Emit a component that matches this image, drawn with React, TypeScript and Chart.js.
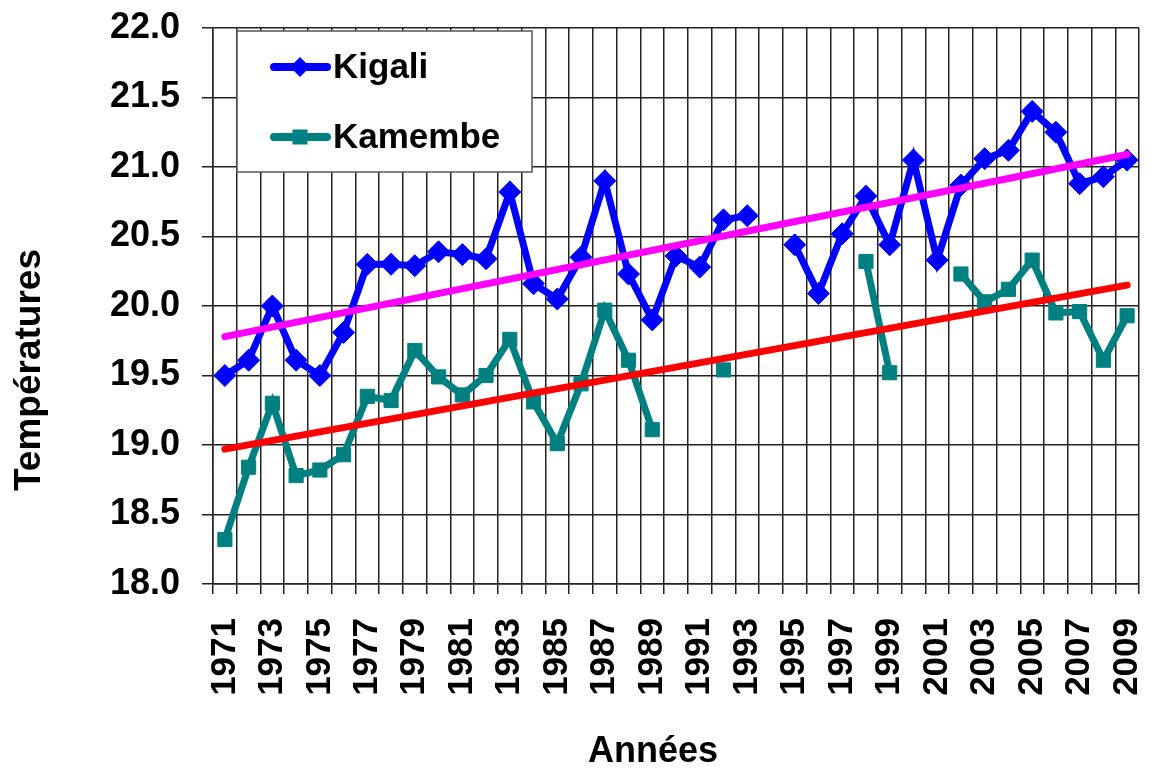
import React, { useEffect, useRef } from "react";
import { Chart, registerables } from "chart.js";

Chart.register(...registerables);

const years: string[] = [
  "1971", "1972", "1973", "1974", "1975", "1976", "1977", "1978", "1979", "1980",
  "1981", "1982", "1983", "1984", "1985", "1986", "1987", "1988", "1989", "1990",
  "1991", "1992", "1993", "1994", "1995", "1996", "1997", "1998", "1999", "2000",
  "2001", "2002", "2003", "2004", "2005", "2006", "2007", "2008", "2009",
];

const kigali: (number | null)[] = [
  19.50, 19.61, 20.00, 19.61, 19.50, 19.81, 20.30, 20.30, 20.29, 20.39,
  20.37, 20.34, 20.82, 20.16, 20.05, 20.35, 20.90, 20.23, 19.90, 20.36,
  20.28, 20.62, 20.65, null, 20.44, 20.09, 20.52, 20.79, 20.44, 21.05,
  20.33, 20.87, 21.06, 21.12, 21.40, 21.25, 20.88, 20.93, 21.05,
];

const kamembe: (number | null)[] = [
  18.32, 18.84, 19.30, 18.78, 18.82, 18.93, 19.35, 19.32, 19.68, 19.49,
  19.36, 19.50, 19.76, 19.31, 19.01, 19.44, 19.97, 19.61, 19.11, null,
  null, 19.54, null, null, null, null, null, 20.32, 19.52, null,
  null, 20.23, 20.03, 20.12, 20.33, 19.95, 19.96, 19.61, 19.93,
];

// trend line end values (first and last year)
const kigaliTrendEnds: [number, number] = [19.78, 21.09];
const kamembeTrendEnds: [number, number] = [18.97, 20.15];

const yTicks = { min: 18, max: 22, step: 0.5 };

const xTitle = "Années";
const yTitle = "Températures";

const FONT = "'Liberation Sans', Arial, sans-serif";

function trendData(ends: [number, number]): (number | null)[] {
  return years.map((_, i) => (i === 0 ? ends[0] : i === years.length - 1 ? ends[1] : null));
}

const titlesPlugin = {
  id: "axisTitles",
  afterDraw(chart: any) {
    const ctx = chart.ctx as CanvasRenderingContext2D;
    ctx.save();
    ctx.fillStyle = "#000000";
    ctx.textAlign = "center";
    ctx.textBaseline = "middle";
    ctx.font = `bold 36px ${FONT}`;
    ctx.fillText(xTitle, 653, 752);
    ctx.translate(30, 370);
    ctx.rotate(-Math.PI / 2);
    ctx.font = `bold 37px ${FONT}`;
    ctx.fillText(yTitle, 0, 0);
    ctx.restore();
  },
};

const legendPlugin = {
  id: "boxLegend",
  afterDraw(chart: any) {
    const ctx = chart.ctx as CanvasRenderingContext2D;
    ctx.save();
    const x0 = 237, y0 = 31, w = 295, h = 141;
    ctx.fillStyle = "#ffffff";
    ctx.fillRect(x0, y0, w, h);
    ctx.strokeStyle = "#555555";
    ctx.lineWidth = 1.5;
    ctx.strokeRect(x0, y0, w, h);
    const items = [
      { label: "Kigali", color: "#0000FF", y: 67, shape: "diamond" },
      { label: "Kamembe", color: "#008080", y: 137, shape: "square" },
    ];
    for (const it of items) {
      ctx.strokeStyle = it.color;
      ctx.lineWidth = 8;
      ctx.lineCap = "round";
      ctx.beginPath();
      ctx.moveTo(274, it.y);
      ctx.lineTo(327, it.y);
      ctx.stroke();
      ctx.fillStyle = it.color;
      const cx = 300;
      if (it.shape === "diamond") {
        ctx.beginPath();
        ctx.moveTo(cx - 10, it.y);
        ctx.lineTo(cx, it.y - 10);
        ctx.lineTo(cx + 10, it.y);
        ctx.lineTo(cx, it.y + 10);
        ctx.closePath();
        ctx.fill();
      } else {
        ctx.fillRect(cx - 7.5, it.y - 7.5, 15, 15);
      }
      ctx.fillStyle = "#000000";
      ctx.font = `bold 35px ${FONT}`;
      ctx.textBaseline = "middle";
      ctx.textAlign = "left";
      ctx.fillText(it.label, 333, it.y + 1);
    }
    ctx.restore();
  },
};

export default function App() {
  const ref = useRef<HTMLCanvasElement | null>(null);

  useEffect(() => {
    if (!ref.current) return;
    const chart = new Chart(ref.current, {
      type: "line",
      data: {
        labels: years,
        datasets: [
          {
            label: "Tendance Kigali",
            data: trendData(kigaliTrendEnds),
            borderColor: "#FF00FF",
            borderWidth: 7,
            borderCapStyle: "round",
            pointRadius: 0,
            spanGaps: true,
            order: 0,
          },
          {
            label: "Tendance Kamembe",
            data: trendData(kamembeTrendEnds),
            borderColor: "#FF0000",
            borderWidth: 7,
            borderCapStyle: "round",
            pointRadius: 0,
            spanGaps: true,
            order: 0,
          },
          {
            label: "Kigali",
            data: kigali,
            borderColor: "#0000FF",
            backgroundColor: "#0000FF",
            borderWidth: 7,
            pointStyle: "rectRot",
            pointRadius: 11,
            pointBorderWidth: 1,
            spanGaps: false,
            order: 1,
          },
          {
            label: "Kamembe",
            data: kamembe,
            borderColor: "#008080",
            backgroundColor: "#008080",
            borderWidth: 7,
            pointStyle: "rect",
            pointRadius: 10,
            pointBorderWidth: 1,
            spanGaps: false,
            order: 1,
          },
        ],
      },
      options: {
        responsive: false,
        animation: false,
        events: [],
        layout: { padding: { top: 28, right: 11, left: 0, bottom: 0 } },
        plugins: {
          legend: { display: false },
          tooltip: { enabled: false },
        },
        scales: {
          x: {
            type: "category",
            offset: true,
            grid: {
              offset: true,
              color: "#222222",
              lineWidth: 1.5,
              tickLength: 10,
              drawTicks: true,
            },
            border: { color: "#222222", width: 1.5 },
            ticks: {
              autoSkip: false,
              maxRotation: 90,
              minRotation: 90,
              padding: 24,
              color: "#000000",
              font: { family: FONT, size: 35, weight: "bold" },
              callback: (_v: any, i: number) => (i % 2 === 0 ? years[i] : ""),
            },
            title: { display: false },
            afterFit: (scale: any) => {
              scale.height = 186;
              scale.paddingLeft = 0;
              scale.paddingRight = 0;
            },
          },
          y: {
            min: yTicks.min,
            max: yTicks.max,
            grid: {
              color: "#222222",
              lineWidth: 1.5,
              tickLength: 11,
              drawTicks: true,
            },
            border: { color: "#222222", width: 1.5 },
            ticks: {
              stepSize: yTicks.step,
              padding: 22,
              color: "#000000",
              font: { family: FONT, size: 36, weight: "bold" },
              callback: (v: any) => Number(v).toFixed(1),
            },
            title: { display: false },
            afterFit: (scale: any) => {
              scale.width = 213;
              scale.paddingTop = 0;
              scale.paddingBottom = 0;
            },
          },
        },
      } as any,
      plugins: [legendPlugin, titlesPlugin],
    });
    return () => chart.destroy();
  }, []);

  return (
    <div style={{ position: "fixed", left: 0, top: 0, width: 1151, height: 770, background: "#fff" }}>
      <canvas ref={ref} width={1151} height={770} style={{ display: "block" }} />
    </div>
  );
}
